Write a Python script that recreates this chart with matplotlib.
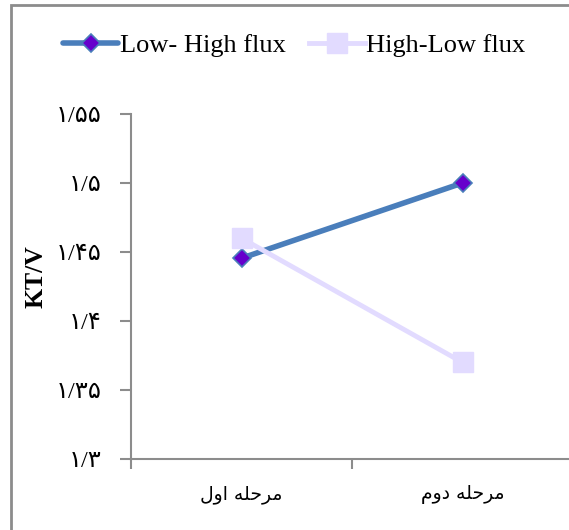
# -*- coding: utf-8 -*-
import matplotlib
matplotlib.use('Agg')
import matplotlib.pyplot as plt
from matplotlib.patches import Rectangle

# data
stages = [1, 2]
stage_labels = ['ﻝﻭﺍ ﻪﻠﺣﺮﻣ', 'ﻡﻭﺩ ﻪﻠﺣﺮﻣ']   # مرحله اول / مرحله دوم (shaped, visual order)
low_high = [1.4455, 1.50]
high_low = [1.460, 1.370]
yticks = [1.30, 1.35, 1.40, 1.45, 1.50, 1.55]
ytick_labels = ['۱/۳', '۱/۳۵', '۱/۴', '۱/۴۵', '۱/۵', '۱/۵۵']

fonts = ['Liberation Serif', 'DejaVu Sans']
grey = '#8c8c8c'

fig = plt.figure(figsize=(5.69, 5.30), dpi=100)
ax = fig.add_axes([131/569, 71/530, 442/569, 345/530])

# chart border (only top and left visible in the crop)
fig.patches.append(Rectangle((11/569, -0.1), 1.2, (525/530) + 0.1, transform=fig.transFigure,
                             fill=False, edgecolor=grey, linewidth=2, zorder=0))

ax.plot(stages, low_high, color='#4a7ebb', linewidth=4, marker='D', markersize=9,
        markerfacecolor='#6600cc', markeredgecolor='#4a7ebb', markeredgewidth=1.2,
        label='Low- High flux', zorder=3, solid_capstyle='round')
ax.plot(stages, high_low, color='#e2dbff', linewidth=3.5, marker='s', markersize=14,
        markerfacecolor='#e2dbff', markeredgecolor='#e2dbff',
        label='High-Low flux', zorder=4)

ax.set_xlim(0.5, 2.5)
ax.set_ylim(1.3, 1.55)
ax.set_yticks(yticks)
ax.set_yticklabels(ytick_labels, family=fonts, fontsize=17.5)
ax.set_xticks([0.5, 1.5, 2.5])
ax.set_xticks(stages, minor=True)
ax.set_xticklabels(['', '', ''])
ax.set_xticklabels(stage_labels, minor=True, family=['DejaVu Sans'], fontsize=13.5)
ax.tick_params(axis='x', which='minor', length=0, pad=19)
ax.tick_params(axis='x', which='major', length=7, width=1.5, color=grey, direction='out')
ax.tick_params(axis='y', length=8, width=1.5, color=grey, pad=13)

for s in ['top', 'right']:
    ax.spines[s].set_visible(False)
for s in ['left', 'bottom']:
    ax.spines[s].set_color(grey)
    ax.spines[s].set_linewidth(1.5)

ax.set_ylabel('KT/V', family=fonts, fontsize=18.5, fontweight='bold')
ax.yaxis.set_label_coords(-0.19, 0.53)

fig.legend(loc='center', bbox_to_anchor=(294/569, 1 - 45/530), ncol=2, frameon=False,
           prop={'family': fonts, 'size': 19}, handlelength=2.1, handletextpad=0.05,
           columnspacing=0.9)

fig.savefig('out.png', dpi=100)
